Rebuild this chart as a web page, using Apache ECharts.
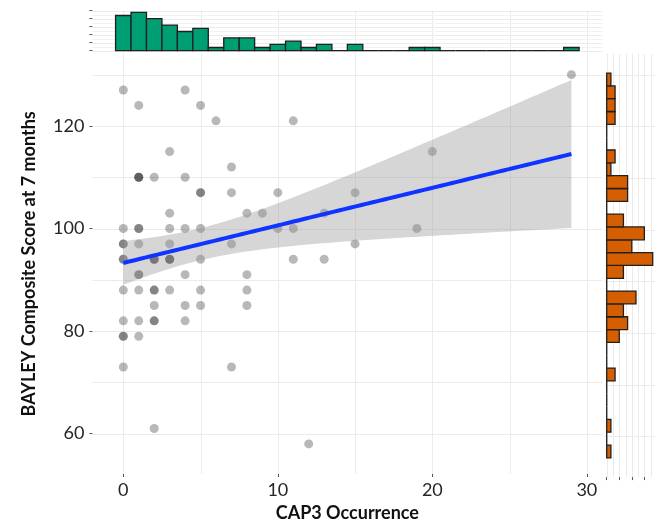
<!DOCTYPE html>
<html>
<head>
<meta charset="utf-8">
<script src="https://cdn.jsdelivr.net/npm/echarts@6/dist/echarts.min.js"></script>
<style>
html,body{margin:0;padding:0;background:#fff;}
#chart{width:660px;height:527px;}
</style>
</head>
<body>
<div id="chart"></div>
<script>
// ---- data ----
// CAP3 occurrence (x) and BAYLEY composite score (y) per child (overlapping points repeated)
const cap3 = [
  0, 4,            // 127
  1, 5,            // 124
  6, 11,           // 121
  3, 20,           // 115
  7,               // 112
  1, 1, 1, 2, 4,   // 110
  5, 5, 7, 10, 15, // 107
  3, 8, 9, 13,     // 103
  29,              // 130
  0, 1, 1, 3, 4, 5, 10, 11, 19,        // 100
  0, 0, 1, 3, 7, 15,                   // 97
  0, 0, 2, 2, 2, 3, 3, 3, 5, 11, 13,   // 94
  1, 1, 4, 8,                          // 91
  0, 1, 2, 2, 3, 5, 8,                 // 88
  2, 4, 5, 8,                          // 85
  0, 1, 2, 2, 4,                       // 82
  0, 0, 1,                             // 79
  0, 7,                                // 73
  2,                                   // 61
  12                                   // 58
];
const bayley = [
  127, 127,
  124, 124,
  121, 121,
  115, 115,
  112,
  110, 110, 110, 110, 110,
  107, 107, 107, 107, 107,
  103, 103, 103, 103,
  130,
  100, 100, 100, 100, 100, 100, 100, 100, 100,
  97, 97, 97, 97, 97, 97,
  94, 94, 94, 94, 94, 94, 94, 94, 94, 94, 94,
  91, 91, 91, 91,
  88, 88, 88, 88, 88, 88, 88,
  85, 85, 85, 85,
  82, 82, 82, 82, 82,
  79, 79, 79,
  73, 73,
  61,
  58
];
// marginal histogram counts (30 bins each)
const topBinStart = -0.5, topBinWidth = 1;
const topCounts = [11, 12, 10, 8, 6, 7, 1, 4, 4, 1, 2, 3, 1, 2, 0, 2, 0, 0, 0, 1, 1, 0, 0, 0, 0, 0, 0, 0, 0, 1];
const rightBinStart = 55.862, rightBinWidth = 2.48276;
const rightCounts = [1, 0, 1, 0, 0, 0, 2, 0, 0, 3, 5, 4, 7, 0, 4, 11, 6, 9, 4, 0, 5, 5, 1, 2, 0, 0, 2, 2, 2, 1];
// tick labels
const xTicks = [0, 10, 20, 30];
const yTicks = [60, 80, 100, 120];
const xGrid = [0, 5, 10, 15, 20, 25, 30];
const yGrid = [60, 70, 80, 90, 100, 110, 120, 130];
const topGrid = [0, 2.5, 5, 7.5, 10, 12.5];
const topMinor = [1.25, 3.75, 6.25, 8.75, 11.25];
const rightTicks = [0, 3, 6, 9];
const rightGrid = [0, 1.5, 3, 4.5, 6, 7.5, 9, 10.5];

// axis ranges (ggplot 5% expansion)
const xMin = -2, xMax = 31;
const yMin = 52.138, yMax = 134.069;
const topMax = 12.6, topMinV = -0.6;
const rMin = -0.55, rMax = 11.55;

// ---- linear fit with 95% CI (geom_smooth, method = lm) ----
const n = cap3.length;
const mx = cap3.reduce((a, b) => a + b, 0) / n;
const my = bayley.reduce((a, b) => a + b, 0) / n;
let sxx = 0, sxy = 0;
for (let i = 0; i < n; i++) { sxx += (cap3[i] - mx) ** 2; sxy += (cap3[i] - mx) * (bayley[i] - my); }
const slope = sxy / sxx, icpt = my - slope * mx;
let sse = 0;
for (let i = 0; i < n; i++) { sse += (bayley[i] - icpt - slope * cap3[i]) ** 2; }
const sRes = Math.sqrt(sse / (n - 2));
const tCrit = 1.992;
const xLo = Math.min(...cap3), xHi = Math.max(...cap3);
const fit = [], upper = [], lower = [];
for (let k = 0; k < 80; k++) {
  const x = xLo + (xHi - xLo) * k / 79;
  const yh = icpt + slope * x;
  const se = sRes * Math.sqrt(1 / n + (x - mx) ** 2 / sxx);
  fit.push([x, yh]); upper.push([x, yh + tCrit * se]); lower.push([x, yh - tCrit * se]);
}

const pts = cap3.map((x, i) => [x, bayley[i]]);
const GRID = '#EBEBEB';
const FONT = 'Lato';

function vLines(xi, yi, vals, y0, y1, color) {
  return {
    type: 'custom', xAxisIndex: xi, yAxisIndex: yi, z: 0, silent: true,
    data: vals.map(v => [v]),
    renderItem: (p, api) => {
      const v = api.value(0);
      const a = api.coord([v, y0]), b = api.coord([v, y1]);
      const x = Math.round(a[0]) + 0.5;
      return { type: 'line', shape: { x1: x, y1: a[1], x2: x, y2: b[1] }, style: { stroke: color, lineWidth: 1 } };
    }
  };
}
function hLines(xi, yi, vals, x0, x1, color) {
  return {
    type: 'custom', xAxisIndex: xi, yAxisIndex: yi, z: 0, silent: true,
    data: vals.map(v => [0, v]),
    renderItem: (p, api) => {
      const v = api.value(1);
      const a = api.coord([x0, v]), b = api.coord([x1, v]);
      const y = Math.round(a[1]) + 0.5;
      return { type: 'line', shape: { x1: a[0], y1: y, x2: b[0], y2: y }, style: { stroke: color, lineWidth: 1 } };
    }
  };
}

const topData = topCounts.map((c, i) => [topBinStart + i * topBinWidth, topBinStart + (i + 1) * topBinWidth, c]);
const rightData = rightCounts.map((c, i) => [rightBinStart + i * rightBinWidth, rightBinStart + (i + 1) * rightBinWidth, c]);

const noLine = { show: false, onZero: false };

const chart = echarts.init(document.getElementById('chart'), null, { renderer: 'canvas' });
chart.setOption({
  animation: false,
  backgroundColor: '#ffffff',
  textStyle: { fontFamily: FONT },
  grid: [
    { left: 92.4, top: 53.8, width: 509.9, height: 423.3 },
    { left: 92.4, top: 10.4, width: 509.9, height: 42.2 },
    { left: 604.4, top: 53.8, width: 50.6, height: 423.3 }
  ],
  xAxis: [
    {
      gridIndex: 0, type: 'value', min: xMin, max: xMax,
      axisLine: noLine, splitLine: { show: false },
      axisTick: { show: true, customValues: xTicks, length: 3, lineStyle: { color: '#555' } },
      axisLabel: { customValues: xTicks, fontSize: 18, color: '#262626', margin: 7, fontFamily: FONT },
      name: 'CAP3 Occurrence', nameLocation: 'middle', nameGap: 30,
      nameTextStyle: { fontSize: 18, fontWeight: 'bold', color: '#111', fontFamily: FONT }
    },
    {
      gridIndex: 1, type: 'value', min: xMin, max: xMax,
      axisLine: noLine, axisTick: { show: false }, axisLabel: { show: false }, splitLine: { show: false }
    },
    {
      gridIndex: 2, type: 'value', min: rMin, max: rMax,
      axisLine: noLine, splitLine: { show: false },
      axisTick: { show: true, customValues: rightTicks, length: 3, lineStyle: { color: '#555' } },
      axisLabel: { show: false, customValues: rightTicks }
    }
  ],
  yAxis: [
    {
      gridIndex: 0, type: 'value', min: yMin, max: yMax,
      axisLine: noLine, splitLine: { show: false },
      axisTick: { show: true, customValues: yTicks, length: 3, lineStyle: { color: '#555' } },
      axisLabel: { customValues: yTicks, fontSize: 18, color: '#262626', margin: 8, fontFamily: FONT },
      name: 'BAYLEY Composite Score at 7 months', nameLocation: 'middle', nameGap: 54, nameRotate: 90,
      nameTextStyle: { fontSize: 18, fontWeight: 'bold', color: '#111', fontFamily: FONT }
    },
    {
      gridIndex: 1, type: 'value', min: topMinV, max: topMax,
      axisLine: noLine, splitLine: { show: false },
      axisTick: { show: true, customValues: topGrid, length: 3, lineStyle: { color: '#555' } },
      axisLabel: { show: false, customValues: topGrid }
    },
    {
      gridIndex: 2, type: 'value', min: yMin, max: yMax,
      axisLine: noLine, axisTick: { show: false }, axisLabel: { show: false }, splitLine: { show: false }
    }
  ],
  series: [
    // main panel grid lines
    vLines(0, 0, xGrid, yMin, yMax, GRID),
    hLines(0, 0, yGrid, xMin, xMax, GRID),
    // top panel grid lines
    vLines(1, 1, xGrid, topMinV, topMax, GRID),
    hLines(1, 1, topMinor, xMin, xMax, '#F3F3F3'),
    hLines(1, 1, topGrid, xMin, xMax, GRID),
    // right panel grid lines
    vLines(2, 2, rightGrid, yMin, yMax, GRID),
    hLines(2, 2, yGrid, rMin, rMax, GRID),
    // scatter
    {
      type: 'scatter', xAxisIndex: 0, yAxisIndex: 0, z: 2, silent: true,
      data: pts, symbolSize: 9,
      itemStyle: { color: 'rgba(0,0,0,0.35)' }
    },
    // confidence band
    {
      type: 'custom', xAxisIndex: 0, yAxisIndex: 0, z: 3, silent: true,
      data: [[0, 0]],
      renderItem: (p, api) => {
        const poly = upper.map(d => api.coord(d)).concat(lower.slice().reverse().map(d => api.coord(d)));
        return { type: 'polygon', shape: { points: poly }, style: { fill: 'rgba(153,153,153,0.4)' } };
      }
    },
    // fitted line
    {
      type: 'line', xAxisIndex: 0, yAxisIndex: 0, z: 4, silent: true,
      data: fit, showSymbol: false, symbol: 'none',
      lineStyle: { color: '#1034FF', width: 4 }
    },
    // top histogram
    {
      type: 'custom', xAxisIndex: 1, yAxisIndex: 1, z: 3, silent: true,
      data: topData,
      renderItem: (p, api) => {
        const a = api.coord([api.value(0), 0]), b = api.coord([api.value(1), api.value(2)]);
        return { type: 'rect', shape: { x: a[0], y: b[1], width: b[0] - a[0], height: a[1] - b[1] },
          style: { fill: '#009E73', stroke: '#1f1f1f', lineWidth: 1.3 } };
      }
    },
    // right histogram
    {
      type: 'custom', xAxisIndex: 2, yAxisIndex: 2, z: 3, silent: true,
      data: rightData,
      renderItem: (p, api) => {
        const a = api.coord([0, api.value(0)]), b = api.coord([api.value(2), api.value(1)]);
        return { type: 'rect', shape: { x: a[0], y: b[1], width: b[0] - a[0], height: a[1] - b[1] },
          style: { fill: '#D55E00', stroke: '#1f1f1f', lineWidth: 1.3 } };
      }
    }
  ]
});
</script>
</body>
</html>
